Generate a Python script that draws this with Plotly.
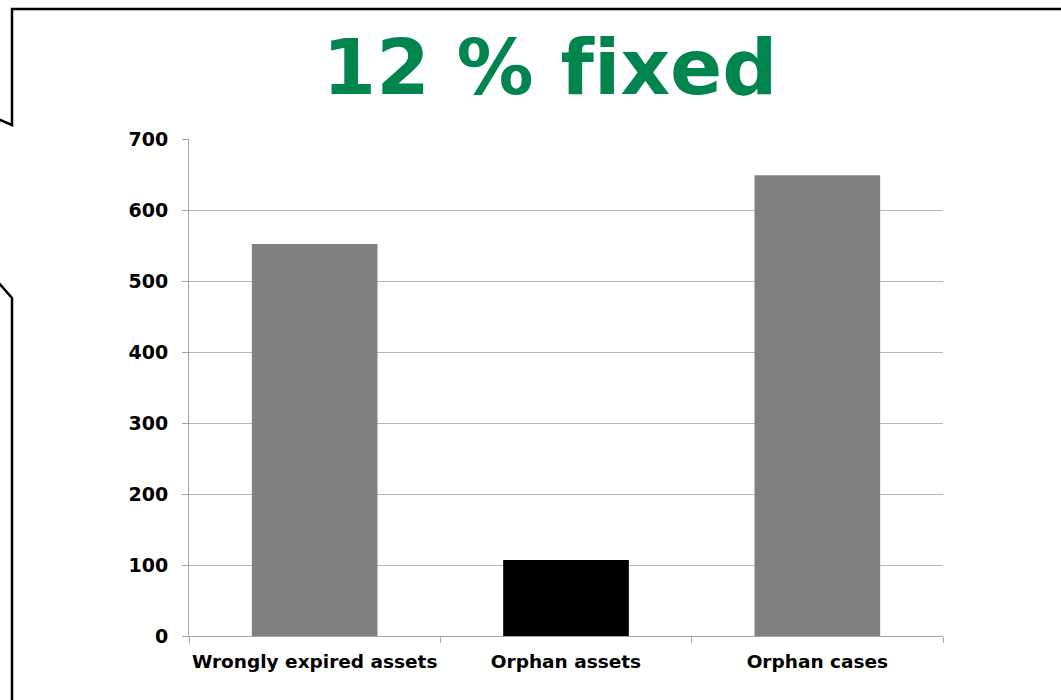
import plotly.graph_objects as go

categories = ["Wrongly expired assets", "Orphan assets", "Orphan cases"]
values = [552, 107, 649]
bar_colors = ["#808080", "#000000", "#808080"]
title_text = "12 % f\u200cixed"

W, H = 1061, 700
L, R, T, B = 189, 1061 - 943, 139, 700 - 636
pw, ph = W - L - R, H - T - B

def px(x):
    return (x - L) / pw

def py(y):
    return (H - B - y) / ph

fig = go.Figure()
fig.add_trace(go.Bar(x=categories, y=values, marker=dict(color=bar_colors, line=dict(width=0)),
                     hoverinfo="x+y"))

border1 = f"M {px(-2)},{py(119)} L {px(12)},{py(125)} L {px(12)},{py(9)} L {px(1063)},{py(9)}"
border2 = f"M {px(-2)},{py(282)} L {px(12)},{py(298)} L {px(12)},{py(702)}"

fig.update_layout(
    width=W, height=H,
    margin=dict(l=L, r=R, t=T, b=B, autoexpand=False),
    paper_bgcolor="white", plot_bgcolor="white",
    showlegend=False,
    bargap=0.5,
    title=dict(text=title_text, x=(550 / W), xanchor="center", y=1 - 67 / H, yanchor="middle",
               font=dict(family="DejaVu Sans", size=77, color="#00854f", weight="bold")),
    font=dict(family="DejaVu Sans", color="#000000"),
    xaxis=dict(showgrid=False, showline=True, linecolor="#a6a6a6", linewidth=1,
               ticks="outside", tickson="boundaries", ticklen=6, tickcolor="#a6a6a6",
               tickangle=0,
               tickfont=dict(size=18.5, family="DejaVu Sans", weight="bold", color="#000000"),
               ticklabelstandoff=9),
    yaxis=dict(range=[0, 700], tickvals=[0, 100, 200, 300, 400, 500, 600, 700],
               showgrid=True, gridcolor="#b8b8b8", gridwidth=1,
               showline=True, linecolor="#a6a6a6", linewidth=1,
               ticks="outside", ticklen=6, tickcolor="#a6a6a6",
               tickfont=dict(size=19, family="DejaVu Sans", weight="bold", color="#000000"),
               ticklabelstandoff=10, zeroline=False),
    shapes=[
        dict(type="path", xref="paper", yref="paper", path=border1,
             line=dict(color="#000000", width=2.5), layer="above"),
        dict(type="path", xref="paper", yref="paper", path=border2,
             line=dict(color="#000000", width=2.5), layer="above"),
    ],
)

fig.write_html("out.html", config={"displayModeBar": False},
               post_script="document.body.style.margin='0';document.body.style.overflow='hidden';")
